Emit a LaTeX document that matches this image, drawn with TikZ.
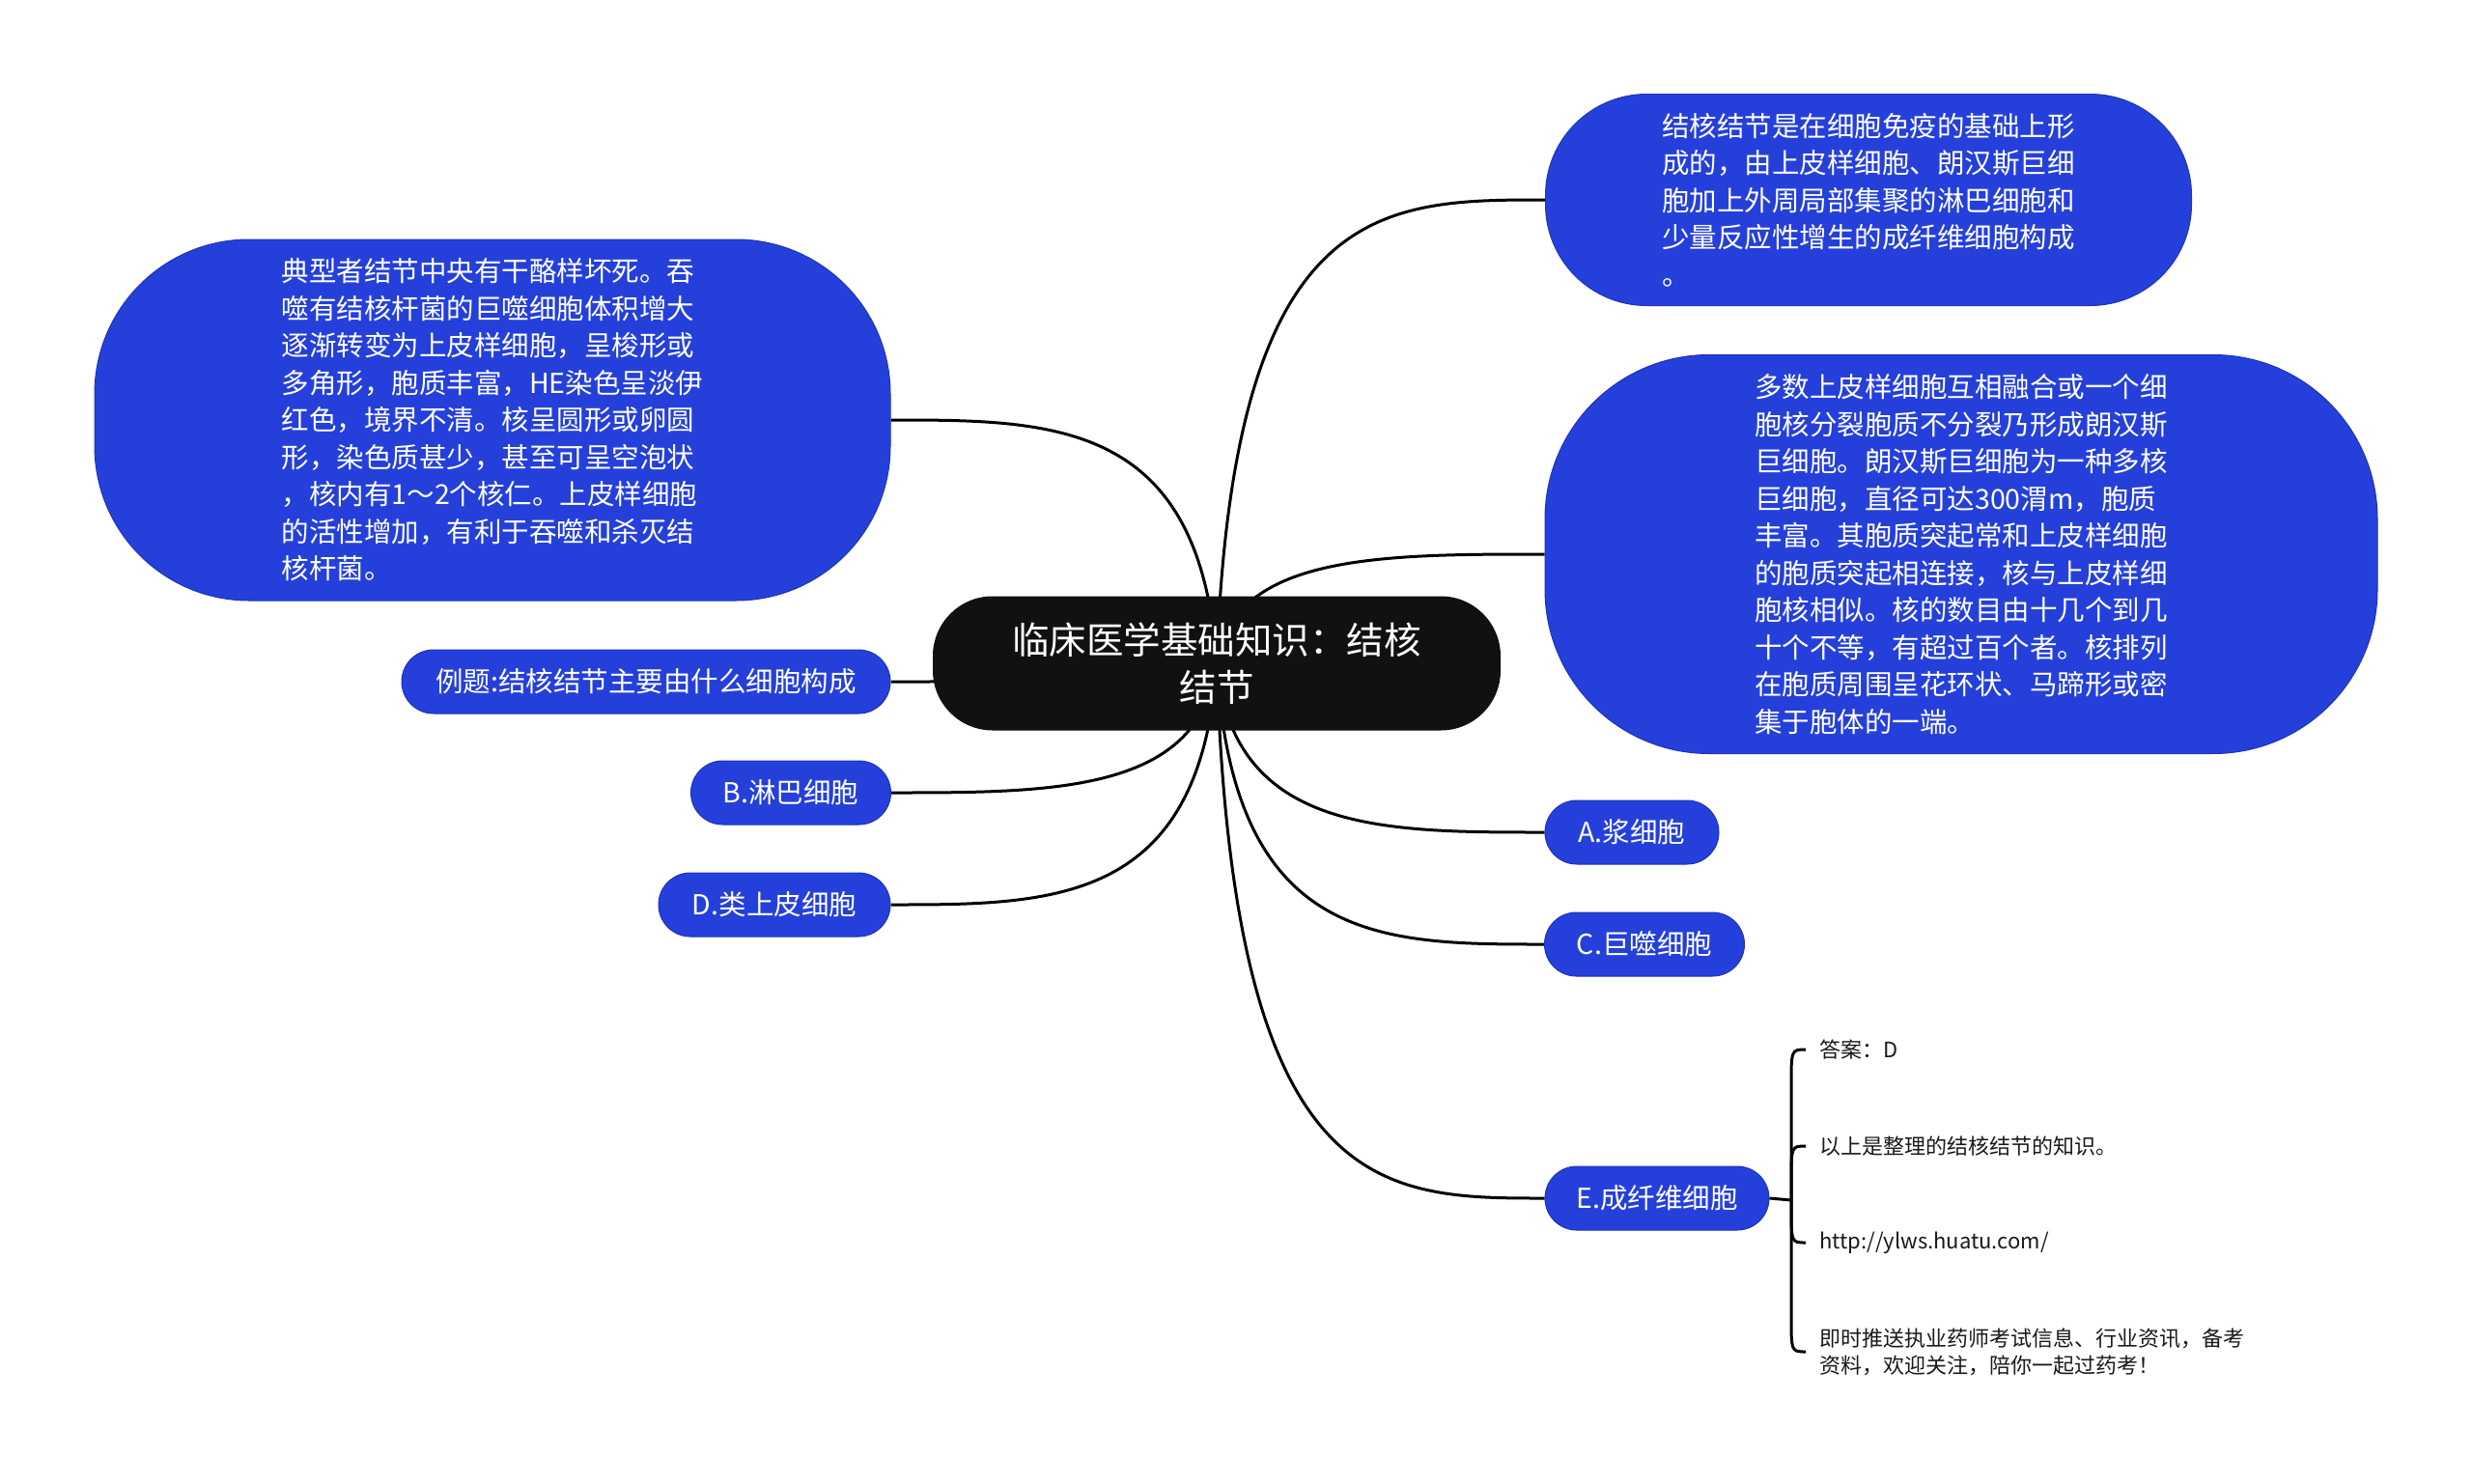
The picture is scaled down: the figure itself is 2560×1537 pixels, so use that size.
\documentclass[tikz,border=0pt]{standalone}
\usepackage{fontspec}
\newfontfamily\cjk{Noto Sans CJK SC}
\usetikzlibrary{calc,backgrounds}
\definecolor{nodeblue}{RGB}{37,64,218}
\definecolor{edgeblue}{RGB}{30,50,185}
\definecolor{rootblack}{RGB}{17,17,17}

\begin{document}
\begin{tikzpicture}[x=1pt, y=-1pt,
  root/.style={fill=rootblack, rounded corners=62pt, text=white, align=center,
    font=\cjk\fontsize{38.5}{49}\selectfont, minimum width=588pt, minimum height=139pt, inner sep=0pt},
  bubble/.style={fill=nodeblue, draw=edgeblue, line width=1pt, text=white, align=left,
    font=\cjk\fontsize{28.5}{38.5}\selectfont, inner sep=0pt},
  pill/.style={bubble, rounded corners=33pt, minimum height=66pt},
  leaf/.style={anchor=west, align=left, text=black!90, font=\cjk\fontsize{22}{28}\selectfont, inner sep=14pt},
  wire/.style={line width=3pt},
  link/.style={wire, to path={let \p1=(\tikztostart), \p2=(\tikztotarget) in
    .. controls (\x1+0.05*\x2-0.05*\x1,\y2) and (0.5*\x1+0.5*\x2,\y2) .. (\tikztotarget)}}]
  \useasboundingbox (0,0) rectangle (2560,1537);

  % centre topic
  \node[root] (ctr) at (1260,687) {临床医学基础知识：结核\\结节};

  % left side
  \node[bubble, rounded corners=160pt, minimum width=824pt, minimum height=374pt] (necrosis) at (510,435)
    {典型者结节中央有干酪样坏死。吞\\噬有结核杆菌的巨噬细胞体积增大\\逐渐转变为上皮样细胞，呈梭形或\\多角形，胞质丰富，HE染色呈淡伊\\红色，境界不清。核呈圆形或卵圆\\形，染色质甚少，甚至可呈空泡状\\，核内有1～2个核仁。上皮样细胞\\的活性增加，有利于吞噬和杀灭结\\核杆菌。};
  \node[pill, minimum width=506pt] (quiz) at (669,706) {例题:结核结节主要由什么细胞构成};
  \node[pill, minimum width=207pt] (optB) at (819,821) {B.淋巴细胞};
  \node[pill, minimum width=240pt] (optD) at (802,937) {D.类上皮细胞};

  % right side
  \node[bubble, rounded corners=105pt, minimum width=669pt, minimum height=219pt] (formed) at (1935,207)
    {结核结节是在细胞免疫的基础上形\\成的，由上皮样细胞、朗汉斯巨细\\胞加上外周局部集聚的淋巴细胞和\\少量反应性增生的成纤维细胞构成\\。};
  \node[bubble, rounded corners=170pt, minimum width=862pt, minimum height=413pt] (langhans) at (2031,574)
    {多数上皮样细胞互相融合或一个细\\胞核分裂胞质不分裂乃形成朗汉斯\\巨细胞。朗汉斯巨细胞为一种多核\\巨细胞，直径可达300渭m，胞质\\丰富。其胞质突起常和上皮样细胞\\的胞质突起相连接，核与上皮样细\\胞核相似。核的数目由十几个到几\\十个不等，有超过百个者。核排列\\在胞质周围呈花环状、马蹄形或密\\集于胞体的一端。};
  \node[pill, minimum width=180pt] (optA) at (1690,862) {A.浆细胞};
  \node[pill, minimum width=207pt] (optC) at (1703,978) {C.巨噬细胞};
  \node[pill, minimum width=232pt] (optE) at (1716,1241) {E.成纤维细胞};

  % notes under E
  \coordinate (jn) at (1855,1243);
  \node[leaf] (answer) at (1870,1087) {答案：D};
  \node[leaf] (summary) at (1870,1187) {以上是整理的结核结节的知识。};
  \node[leaf] (site) at (1870,1287) {http://ylws.huatu.com/};
  \node[leaf] (push) at (1870,1400) {即时推送执业药师考试信息、行业资讯，备考\\资料，欢迎关注，陪你一起过药考！};

  \begin{scope}[on background layer]
    \draw[link] (ctr.center) to (necrosis.east);
    \draw[link] (ctr.center) to (quiz.east);
    \draw[link] (ctr.center) to (optB.east);
    \draw[link] (ctr.center) to (optD.east);
    \draw[link] (ctr.center) to (formed.west);
    \draw[link] (ctr.center) to (langhans.west);
    \draw[link] (ctr.center) to (optA.west);
    \draw[link] (ctr.center) to (optC.west);
    \draw[link] (ctr.center) to (optE.west);
  \end{scope}

  \draw[wire] (optE.east) -- (jn);
  \draw[wire] (jn) -- ($(jn |- answer.west)+(0,38)$) .. controls (jn |- answer.west) .. (answer.west);
  \draw[wire] (jn) -- ($(jn |- summary.west)+(0,38)$) .. controls (jn |- summary.west) .. (summary.west);
  \draw[wire] (jn) -- ($(jn |- site.west)+(0,-38)$) .. controls (jn |- site.west) .. (site.west);
  \draw[wire] (jn) -- ($(jn |- push.west)+(0,-38)$) .. controls (jn |- push.west) .. (push.west);
\end{tikzpicture}
\end{document}
